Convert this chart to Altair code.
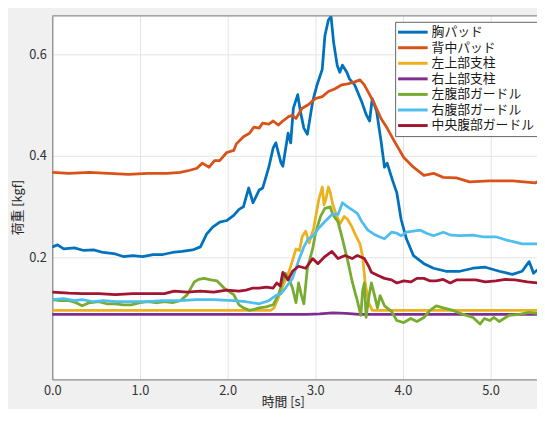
import altair as alt
import pandas as pd

FONT = "Noto Sans CJK JP"

names = ["胸パッド", "背中パッド", "左上部支柱", "右上部支柱", "左腹部ガードル", "右腹部ガードル", "中央腹部ガードル"]
colors = ["#0072BD", "#D95319", "#EDB120", "#7E2F8E", "#77AC30", "#4DBEEE", "#A2142F"]

x_ticks = [0, 1, 2, 3, 4, 5]
y_ticks = [0.2, 0.4, 0.6]

blue_t = [0.00,0.06,0.13,0.25,0.36,0.47,0.58,0.70,0.81,0.92,1.03,1.15,1.26,1.37,1.48,1.60,1.69,1.76,1.83,1.91,1.99,2.07,2.13,2.18,2.24,2.29,2.36,2.40,2.47,2.52,2.55,2.61,2.63,2.69,2.72,2.75,2.80,2.83,2.87,2.91,2.97,3.02,3.08,3.11,3.15,3.18,3.21,3.25,3.28,3.31,3.36,3.39,3.45,3.53,3.58,3.62,3.65,3.70,3.75,3.79,3.82,3.88,3.93,3.98,4.04,4.12,4.24,4.35,4.49,4.65,4.80,4.94,5.10,5.25,5.36,5.44,5.47,5.49,5.53]
blue_v = [0.221,0.225,0.217,0.219,0.214,0.215,0.210,0.208,0.202,0.204,0.202,0.206,0.206,0.210,0.212,0.215,0.221,0.246,0.260,0.270,0.273,0.283,0.295,0.300,0.337,0.308,0.333,0.337,0.378,0.416,0.426,0.386,0.380,0.445,0.426,0.494,0.521,0.488,0.455,0.443,0.507,0.540,0.571,0.637,0.668,0.675,0.623,0.579,0.565,0.579,0.565,0.552,0.540,0.507,0.482,0.469,0.513,0.488,0.430,0.378,0.386,0.353,0.328,0.275,0.237,0.204,0.188,0.179,0.173,0.173,0.179,0.181,0.173,0.167,0.173,0.192,0.179,0.169,0.175]

orange_t = [0.00,0.19,0.42,0.64,0.87,1.09,1.31,1.46,1.57,1.65,1.71,1.79,1.85,1.91,1.99,2.07,2.10,2.18,2.25,2.30,2.36,2.40,2.47,2.52,2.58,2.63,2.70,2.74,2.78,2.85,2.92,3.00,3.08,3.15,3.22,3.30,3.37,3.45,3.51,3.56,3.62,3.67,3.75,3.82,3.90,4.01,4.12,4.24,4.35,4.46,4.61,4.76,4.99,5.25,5.51,5.53]
orange_v = [0.368,0.366,0.368,0.366,0.364,0.366,0.366,0.368,0.372,0.376,0.386,0.378,0.391,0.391,0.407,0.411,0.424,0.438,0.445,0.457,0.455,0.465,0.463,0.469,0.461,0.469,0.478,0.480,0.474,0.494,0.501,0.513,0.517,0.527,0.532,0.540,0.542,0.546,0.550,0.540,0.521,0.505,0.474,0.455,0.430,0.397,0.378,0.362,0.366,0.358,0.357,0.349,0.351,0.351,0.347,0.349]

yellow_t = [0.00,2.49,2.53,2.57,2.63,2.69,2.74,2.78,2.82,2.85,2.89,2.93,2.98,3.01,3.04,3.08,3.10,3.12,3.15,3.17,3.20,3.24,3.28,3.33,3.37,3.42,3.46,3.51,3.54,3.57,3.61,3.65,5.53]
yellow_v = [0.096,0.096,0.101,0.117,0.144,0.167,0.194,0.217,0.214,0.241,0.252,0.229,0.256,0.285,0.314,0.339,0.304,0.314,0.339,0.329,0.304,0.285,0.266,0.281,0.275,0.260,0.244,0.227,0.202,0.150,0.111,0.096,0.096]

purple_t = [0.00,1.00,2.00,2.90,3.05,3.20,3.35,3.50,4.50,5.53]
purple_v = [0.088,0.088,0.088,0.088,0.089,0.091,0.090,0.088,0.088,0.088]

green_t = [0.00,0.08,0.19,0.27,0.34,0.42,0.53,0.62,0.72,0.81,0.90,1.00,1.09,1.20,1.28,1.37,1.46,1.54,1.62,1.67,1.73,1.81,1.88,1.96,2.01,2.07,2.13,2.18,2.25,2.30,2.36,2.44,2.52,2.58,2.64,2.66,2.71,2.74,2.78,2.81,2.84,2.87,2.91,2.97,3.00,3.06,3.11,3.17,3.20,3.26,3.31,3.37,3.42,3.45,3.48,3.52,3.54,3.56,3.58,3.61,3.64,3.67,3.71,3.74,3.79,3.87,3.93,4.01,4.09,4.16,4.24,4.31,4.38,4.46,4.57,4.69,4.80,4.88,4.93,4.99,5.04,5.10,5.21,5.33,5.44,5.53]
green_v = [0.117,0.115,0.115,0.111,0.105,0.111,0.113,0.109,0.109,0.107,0.107,0.111,0.113,0.111,0.113,0.111,0.115,0.127,0.152,0.157,0.159,0.156,0.154,0.140,0.134,0.127,0.107,0.101,0.096,0.098,0.101,0.103,0.107,0.127,0.159,0.169,0.154,0.140,0.111,0.150,0.127,0.109,0.179,0.217,0.246,0.281,0.297,0.300,0.285,0.270,0.237,0.194,0.154,0.134,0.115,0.086,0.134,0.150,0.082,0.121,0.150,0.130,0.101,0.125,0.105,0.094,0.076,0.072,0.080,0.074,0.082,0.096,0.105,0.101,0.096,0.088,0.082,0.069,0.080,0.076,0.082,0.074,0.086,0.088,0.092,0.090]

lightblue_t = [0.00,0.13,0.25,0.34,0.47,0.58,0.72,0.87,1.09,1.26,1.46,1.65,1.84,2.07,2.21,2.36,2.47,2.55,2.61,2.66,2.74,2.81,2.87,2.92,2.98,3.03,3.11,3.19,3.26,3.31,3.37,3.43,3.48,3.53,3.60,3.67,3.73,3.79,3.87,3.93,3.98,4.04,4.12,4.20,4.27,4.35,4.46,4.55,4.65,4.80,4.91,5.06,5.17,5.27,5.36,5.53]
lightblue_v = [0.117,0.119,0.115,0.117,0.113,0.115,0.113,0.113,0.113,0.115,0.115,0.117,0.117,0.115,0.113,0.109,0.115,0.125,0.129,0.140,0.159,0.194,0.221,0.237,0.243,0.256,0.271,0.285,0.285,0.308,0.300,0.293,0.287,0.271,0.254,0.246,0.241,0.237,0.250,0.248,0.243,0.250,0.252,0.254,0.248,0.243,0.250,0.244,0.243,0.244,0.241,0.241,0.235,0.231,0.227,0.227]

red_t = [0.00,0.19,0.34,0.53,0.72,0.92,1.09,1.28,1.39,1.54,1.69,1.84,1.99,2.13,2.21,2.29,2.36,2.44,2.52,2.56,2.60,2.63,2.69,2.74,2.81,2.89,2.97,3.03,3.11,3.19,3.26,3.34,3.42,3.48,3.56,3.61,3.64,3.71,3.79,3.87,3.93,4.01,4.09,4.16,4.24,4.31,4.38,4.46,4.54,4.61,4.69,4.83,4.94,5.06,5.17,5.28,5.42,5.53]
red_v = [0.132,0.130,0.129,0.129,0.127,0.129,0.129,0.129,0.134,0.132,0.134,0.132,0.136,0.134,0.136,0.140,0.140,0.142,0.140,0.150,0.144,0.171,0.156,0.173,0.183,0.179,0.198,0.188,0.202,0.212,0.198,0.204,0.198,0.204,0.198,0.183,0.171,0.165,0.159,0.156,0.150,0.154,0.152,0.159,0.159,0.154,0.154,0.157,0.150,0.156,0.156,0.156,0.152,0.154,0.157,0.156,0.152,0.150]

series = [(blue_t, blue_v), (orange_t, orange_v), (yellow_t, yellow_v), (purple_t, purple_v),
          (green_t, green_v), (lightblue_t, lightblue_v), (red_t, red_v)]

frames = []
for i, (n, (t, v)) in enumerate(zip(names, series)):
    df = pd.DataFrame({"t": t, "v": v})
    df["name"] = n
    df["k"] = i
    frames.append(df)
data = pd.concat(frames, ignore_index=True)

W, H = 492, 369

lines = alt.Chart(data).mark_line(strokeWidth=2.8, clip=True, strokeJoin="round", strokeCap="round").encode(
    x=alt.X("t:Q",
            scale=alt.Scale(domain=[0, 5.53], nice=False, zero=False),
            axis=alt.Axis(title="時間 [s]", values=x_ticks, format=".1f", ticks=False,
                          labelPadding=5, labelFont=FONT, labelFontSize=13, labelColor="#333333",
                          domainColor="#707070", gridColor="#e4e4e4", labelFlush=False,
                          titleFont=FONT, titleFontSize=13, titleFontWeight="normal", titleColor="#262626",
                          titleX=234, titleY=22, titleBaseline="middle")),
    y=alt.Y("v:Q",
            scale=alt.Scale(domain=[-0.04, 0.676], nice=False, zero=False),
            axis=alt.Axis(title="荷重 [kgf]", values=y_ticks, format=".1f", ticks=False,
                          labelPadding=6, labelFont=FONT, labelFontSize=13, labelColor="#333333",
                          domainColor="#707070", gridColor="#e4e4e4",
                          titleFont=FONT, titleFontSize=13, titleFontWeight="normal", titleColor="#262626",
                          titleX=-35, titleY=194, titleBaseline="middle", titleAlign="center")),
    color=alt.Color("name:N", sort=names,
                    scale=alt.Scale(domain=names, range=colors),
                    legend=alt.Legend(title=None, orient="none", legendX=348, legendY=6, direction="vertical",
                                      symbolType="M-1.25,0L3.75,0", symbolSize=144, symbolStrokeWidth=3,
                                      symbolOffset=0, labelOffset=19, padding=3, rowPadding=0.8,
                                      labelFont=FONT, labelFontSize=13, labelColor="#1a1a1a", labelLimit=200,
                                      fillColor="white", strokeColor="#666666")),
    detail="k:N",
)

top = alt.Chart(pd.DataFrame({"a": [0]})).mark_rule(color="#707070", strokeWidth=1).encode(
    x=alt.value(0), x2=alt.value(W), y=alt.value(0)
)

chart = alt.layer(lines, top).properties(
    width=W, height=H,
    padding={"left": 45, "top": 5, "right": 0, "bottom": 27},
    autosize=alt.AutoSizeParams(type="none"),
    background="#f0f0f0",
).configure_view(stroke=None, fill="white")

chart.save("out.html", embed_options={"renderer": "svg", "actions": False})
